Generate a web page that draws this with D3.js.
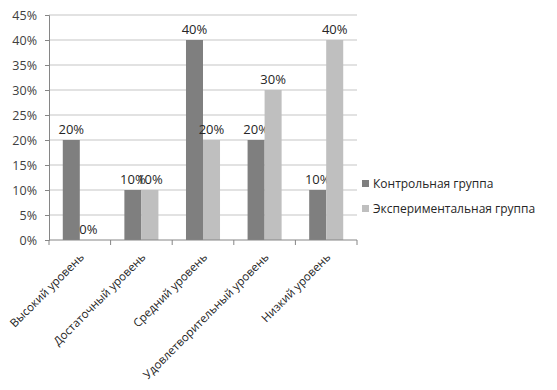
<!DOCTYPE html>
<html><head><meta charset="utf-8">
<script src="https://cdn.jsdelivr.net/npm/d3@7"></script>
<style>body{margin:0;background:#fff}svg{display:block}</style>
</head><body><svg id="c" width="557" height="390"></svg>
<script>
const categories = ["Высокий уровень","Достаточный уровень","Средний уровень","Удовлетворительный уровень","Низкий уровень"];
const seriesNames = ["Контрольная группа","Экспериментальная группа"];
const control = [0.20,0.10,0.40,0.20,0.10];
const experimental = [0.00,0.10,0.20,0.30,0.40];
const yTicks = [0,0.05,0.10,0.15,0.20,0.25,0.30,0.35,0.40,0.45];
const colors = ["#7f7f7f","#bfbfbf"];
const font = "'Open Sans', sans-serif";

const svg = d3.select("#c");
const L=49, R=357, T=15, B=240;
const x = d3.scaleBand().domain(categories).range([L,R]).paddingInner(0).paddingOuter(0);
const x1 = d3.scaleBand().domain(seriesNames).range([0,x.bandwidth()]).paddingInner(0).paddingOuter(0.81);
const y = d3.scaleLinear().domain([0,0.45]).range([B,T]);
const fmt = d3.format(".0%");

// gridlines
svg.append("g").selectAll("line").data(yTicks.slice(1)).join("line")
  .attr("x1",L).attr("x2",R).attr("y1",d=>y(d)).attr("y2",d=>y(d))
  .attr("stroke","#d9d9d9").attr("stroke-width",1.5);

// y axis
const ya = svg.append("g").attr("transform",`translate(${L},0)`)
  .call(d3.axisLeft(y).tickValues(yTicks).tickFormat(fmt).tickSize(4).tickPadding(8));
ya.select(".domain").attr("stroke","#868686");
ya.selectAll(".tick line").attr("stroke","#868686");
ya.selectAll("text").attr("font-family",font).attr("font-size",12.5).attr("fill","#404040");

// bars
const data = [control, experimental];
const g = svg.append("g");
categories.forEach((c,i)=>{
  data.forEach((s,j)=>{
    const bx = x(c)+x1(seriesNames[j]);
    g.append("rect").attr("x",bx).attr("y",y(s[i])).attr("width",x1.bandwidth()).attr("height",B-y(s[i])).attr("fill",colors[j]);
    g.append("text").attr("x",bx+x1.bandwidth()/2).attr("y",y(s[i])-6).attr("text-anchor","middle")
      .attr("font-family",font).attr("font-size",13).attr("fill","#262626").text(fmt(s[i]));
  });
});

// x axis
const xa = svg.append("g").attr("transform",`translate(0,${B})`);
xa.append("line").attr("x1",L).attr("x2",R).attr("stroke","#868686");
const bounds = categories.map(c=>x(c)).concat([R]);
xa.selectAll("line.t").data(bounds).join("line").attr("class","t")
  .attr("x1",d=>d).attr("x2",d=>d).attr("y1",0).attr("y2",5).attr("stroke","#868686");
xa.selectAll("text").data(categories).join("text")
  .attr("transform",d=>`translate(${x(d)+x.bandwidth()/2+5},18) rotate(-45)`)
  .attr("text-anchor","end")
  .attr("font-family",font).attr("font-size",11.5).attr("fill","#262626").text(d=>d);

// legend
const lg = svg.append("g").attr("transform","translate(362,179)");
seriesNames.forEach((n,j)=>{
  lg.append("rect").attr("x",0).attr("y",j*25+1).attr("width",7).attr("height",7).attr("fill",colors[j]);
  lg.append("text").attr("x",11).attr("y",j*25+9).attr("font-family",font).attr("font-size",12).attr("fill","#262626").text(n);
});
</script></body></html>
